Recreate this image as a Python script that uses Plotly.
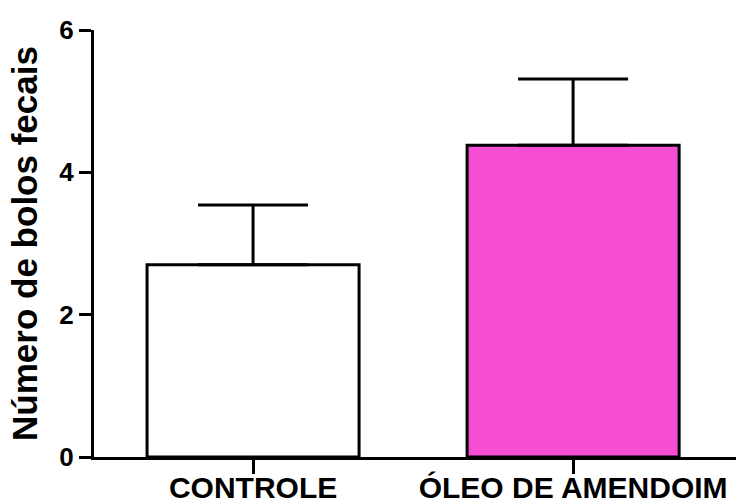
import plotly.graph_objects as go

# Fecal bolus count per group (mean with SEM upward)
categories = ["CONTROLE", "ÓLEO DE AMENDOIM"]
means = [2.70, 4.38]
sem = [0.84, 0.93]
fill_colors = ["#FFFFFF", "#F54DD4"]
y_ticks = [0, 2, 4, 6]

FONT = "Arial, 'Liberation Sans', sans-serif"

fig = go.Figure(
    go.Bar(
        x=list(range(len(categories))),
        y=means,
        width=0.6625,
        marker=dict(color=fill_colors, line=dict(color="black", width=3)),
        error_y=dict(
            type="data",
            array=sem,
            arrayminus=[0] * len(sem),
            symmetric=False,
            color="black",
            thickness=3,
            width=55,
        ),
    )
)

fig.update_layout(
    width=742,
    height=504,
    margin=dict(l=94, r=6, t=30, b=47),
    paper_bgcolor="white",
    plot_bgcolor="white",
    showlegend=False,
    font=dict(family=FONT, color="black"),
)

fig.update_xaxes(
    automargin=False,
    range=[-0.497, 1.509],
    tickmode="array",
    tickvals=list(range(len(categories))),
    ticktext=[f"<b>{c}</b>" for c in categories],
    ticks="outside",
    ticklen=14,
    tickwidth=3,
    tickcolor="black",
    ticklabelstandoff=-12,
    showline=True,
    linecolor="black",
    linewidth=3,
    showgrid=False,
    zeroline=False,
    tickfont=dict(family=FONT, size=30, color="black"),
)

fig.update_yaxes(
    automargin=False,
    range=[0, 6],
    tickmode="array",
    tickvals=y_ticks,
    ticktext=[f"<b>{v}</b>" for v in y_ticks],
    ticks="outside",
    ticklen=12,
    tickwidth=3,
    tickcolor="black",
    showline=True,
    linecolor="black",
    linewidth=3,
    showgrid=False,
    zeroline=False,
    tickfont=dict(family=FONT, size=26, color="black"),
    title=dict(
        text="<b>Número de bolos fecais</b>",
        font=dict(family=FONT, size=35, color="black"),
        standoff=12,
    ),
)

fig.write_html("out.html")
